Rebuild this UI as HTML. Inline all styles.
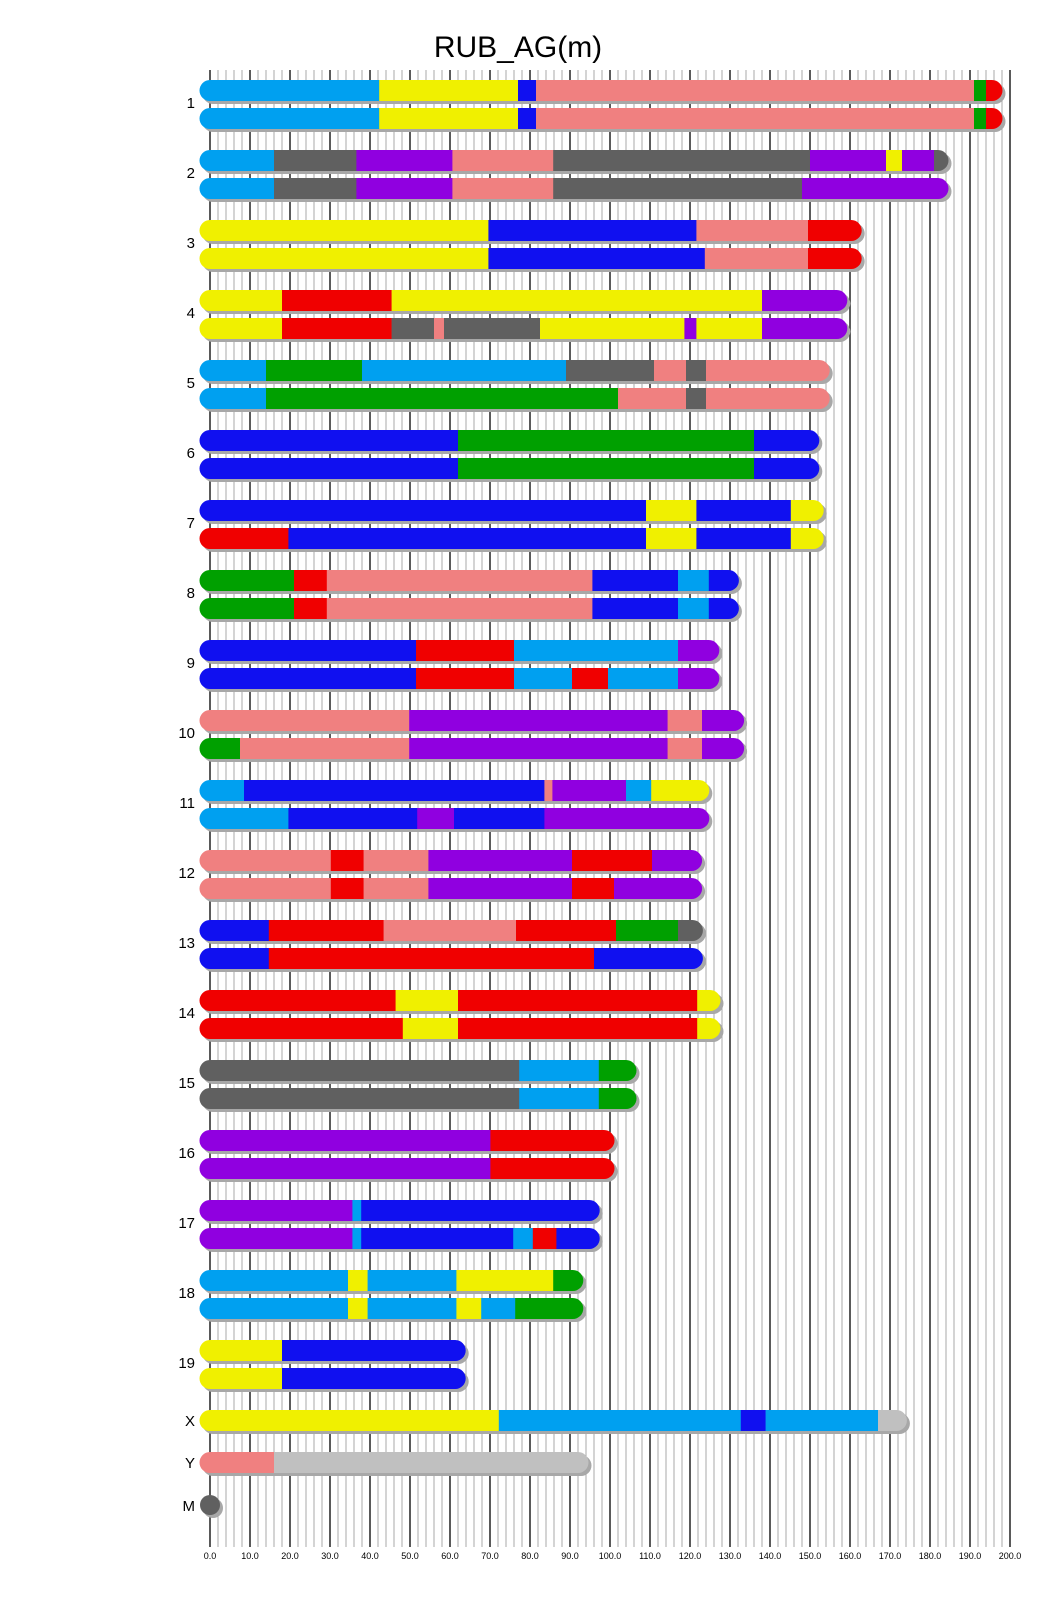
<!DOCTYPE html>
<html><head><meta charset="utf-8"><style>
html,body{margin:0;padding:0;background:#fff}
svg{display:block}
text{font-family:"Liberation Sans",Arial,sans-serif;fill:#000}
</style></head><body>
<svg id="s" width="1040" height="1616" xmlns="http://www.w3.org/2000/svg">
<text x="518" y="57" font-size="30" text-anchor="middle">RUB_AG(m)</text>
<g id="grid"></g>
<g id="bars"></g>
<g font-size="15" text-anchor="end">
<text x="195" y="108">1</text><text x="195" y="178">2</text><text x="195" y="248">3</text><text x="195" y="318">4</text>
<text x="195" y="388">5</text><text x="195" y="458">6</text><text x="195" y="528">7</text><text x="195" y="598">8</text>
<text x="195" y="668">9</text><text x="195" y="738">10</text><text x="195" y="808">11</text><text x="195" y="878">12</text>
<text x="195" y="948">13</text><text x="195" y="1018">14</text><text x="195" y="1088">15</text><text x="195" y="1158">16</text>
<text x="195" y="1228">17</text><text x="195" y="1298">18</text><text x="195" y="1368">19</text>
<text x="195" y="1426">X</text><text x="195" y="1468">Y</text><text x="195" y="1511">M</text>
</g>
<g font-size="9" text-anchor="middle">
<text x="210" y="1559">0.0</text><text x="250" y="1559">10.0</text><text x="290" y="1559">20.0</text><text x="330" y="1559">30.0</text>
<text x="370" y="1559">40.0</text><text x="410" y="1559">50.0</text><text x="450" y="1559">60.0</text><text x="490" y="1559">70.0</text>
<text x="530" y="1559">80.0</text><text x="570" y="1559">90.0</text><text x="610" y="1559">100.0</text><text x="650" y="1559">110.0</text>
<text x="690" y="1559">120.0</text><text x="730" y="1559">130.0</text><text x="770" y="1559">140.0</text><text x="810" y="1559">150.0</text>
<text x="850" y="1559">160.0</text><text x="890" y="1559">170.0</text><text x="930" y="1559">180.0</text><text x="970" y="1559">190.0</text>
<text x="1010" y="1559">200.0</text>
</g>
</svg>
<script>
var NS="http://www.w3.org/2000/svg";
function el(t,a,p){var e=document.createElementNS(NS,t);for(var k in a)e.setAttribute(k,a[k]);p.appendChild(e);return e;}
var g=document.getElementById('grid');
for(var u=0;u<=200;u+=2){var x=210+u*4;var maj=(u%10==0);
el('line',{x1:x,x2:x,y1:70,y2:1547,stroke:maj?'#000':'#a8a8a8','stroke-width':maj?1.3:1},g);}
var C={b:'#00a0f0',y:'#f0f000',d:'#1010f0',s:'#f08080',g:'#00a000',r:'#f00000',p:'#9000e0',k:'#606060',l:'#c0c0c0'};
var D=[
[["b",42.3,"y",77,"d",81.5,"s",191,"g",194,"r",195.5],["b",42.3,"y",77,"d",81.5,"s",191,"g",194,"r",195.5]],
[["b",16,"k",36.6,"p",60.6,"s",85.8,"k",150,"p",169,"y",173,"p",181,"k",182],["b",16,"k",36.6,"p",60.6,"s",85.8,"k",148,"p",182]],
[["y",69.6,"d",121.6,"s",149.5,"r",160.3],["y",69.6,"d",123.7,"s",149.5,"r",160.3]],
[["y",18,"r",45.4,"y",138,"p",156.7],["y",18,"r",45.4,"k",56,"s",58.5,"k",82.5,"y",118.6,"p",121.6,"y",138,"p",156.7]],
[["b",14,"g",38,"b",89,"k",111,"s",119,"k",124,"s",152.3],["b",14,"g",102,"s",119,"k",124,"s",152.3]],
[["d",62,"g",136,"d",149.7],["d",62,"g",136,"d",149.7]],
[["d",109,"y",121.6,"d",145.2,"y",150.8],["r",19.6,"d",109,"y",121.6,"d",145.2,"y",150.8]],
[["g",21,"r",29.2,"s",95.6,"d",117,"b",124.7,"d",129.6],["g",21,"r",29.2,"s",95.6,"d",117,"b",124.7,"d",129.6]],
[["d",51.5,"r",76,"b",117,"p",124.7],["d",51.5,"r",76,"b",90.5,"r",99.5,"b",117,"p",124.7]],
[["s",49.8,"p",114.4,"s",123,"p",130.9],["g",7.5,"s",49.8,"p",114.4,"s",123,"p",130.9]],
[["b",8.5,"d",83.6,"s",85.6,"p",104,"b",110.3,"y",122.2],["b",19.6,"d",51.8,"p",61,"d",83.6,"p",122.2]],
[["s",30.2,"r",38.4,"s",54.6,"p",90.5,"r",110.5,"p",120.4],["s",30.2,"r",38.4,"s",54.6,"p",90.5,"r",101,"p",120.4]],
[["d",14.7,"r",43.4,"s",76.5,"r",101.5,"g",117,"k",120.6],["d",14.7,"r",96,"d",120.6]],
[["r",46.4,"y",62,"r",121.8,"y",125],["r",48.2,"y",62,"r",121.8,"y",125]],
[["k",77.3,"b",97.2,"g",104],["k",77.3,"b",97.2,"g",104]],
[["p",70.1,"r",98.5],["p",70.1,"r",98.5]],
[["p",35.6,"b",37.8,"d",94.8],["p",35.6,"b",37.8,"d",75.8,"b",80.7,"r",86.6,"d",94.8]],
[["b",34.5,"y",39.4,"b",61.6,"y",85.8,"g",90.7],["b",34.5,"y",39.4,"b",61.6,"y",67.8,"b",76.3,"g",90.7]],
[["y",18,"d",61.3],["y",18,"d",61.3]]
];
var B=document.getElementById('bars');var cid=0;
function bar(top,segs){
 var end=segs[segs.length-1];var w=end*4+21;
 el('rect',{x:202.5,y:top+3,width:w,height:21,rx:10.5,fill:'#a8a8a8'},B);
 var id='c'+(cid++);var cp=el('clipPath',{id:id},B);
 el('rect',{x:199.5,y:top,width:w,height:21,rx:10.5},cp);
 var gg=el('g',{'clip-path':'url(#'+id+')'},B);
 var prev=-3;
 for(var i=0;i<segs.length;i+=2){var e=segs[i+1];var x0=210+prev*4;var x1=(i+2>=segs.length)?210+e*4+11:210+e*4;
  if(prev<0)x0=198;
  el('rect',{x:x0,y:top,width:x1-x0+0.3,height:21,fill:C[segs[i]]},gg);prev=e;}
}
for(var i=0;i<D.length;i++){var t=80+70*i;bar(t,D[i][0]);bar(t+28,D[i][1]);}
bar(1410,["y",72.2,"b",132.7,"d",138.9,"b",167,"l",171.6]);
bar(1452,["s",16,"l",92]);
el('circle',{cx:213,cy:1508,r:10,fill:'#a8a8a8'},B);
el('circle',{cx:210,cy:1505,r:10,fill:'#606060'},B);
</script>
</body></html>
